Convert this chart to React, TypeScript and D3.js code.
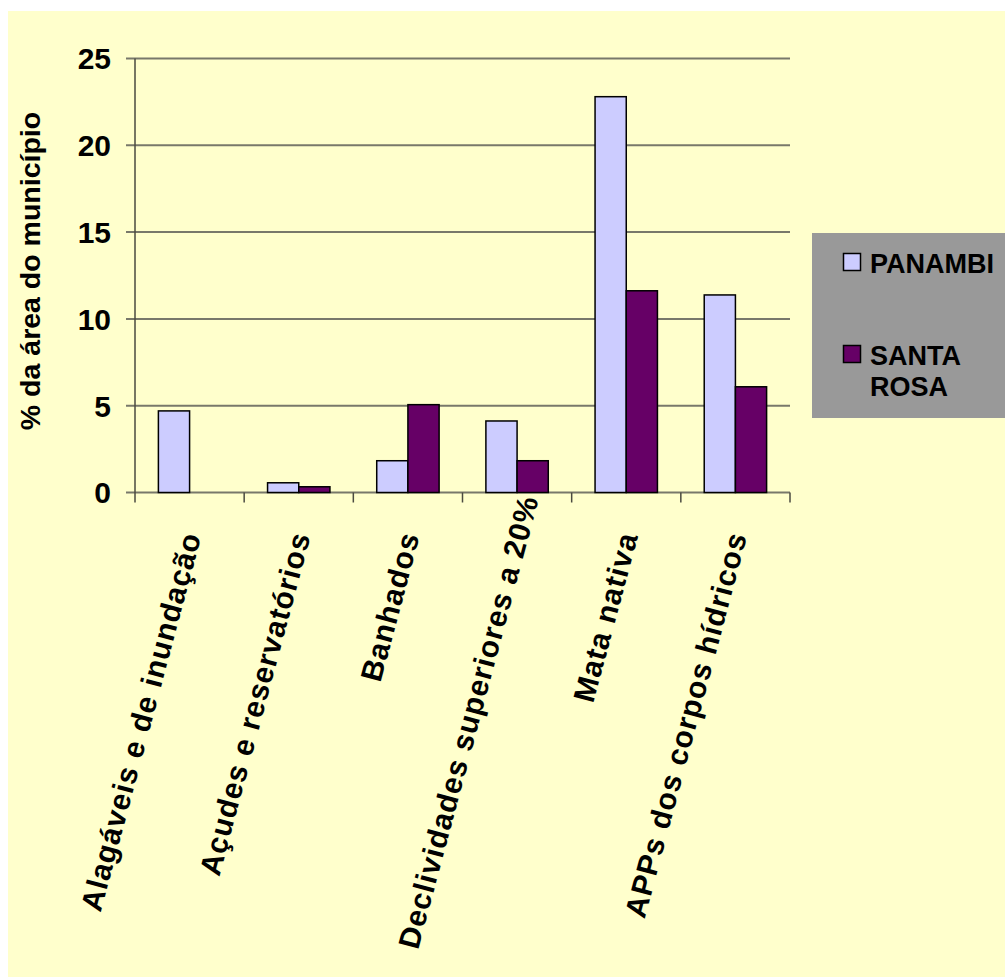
import React, { useEffect, useRef } from 'react';
import * as d3 from 'd3';

const categories = [
  'Alagáveis e de inundação',
  'Açudes e reservatórios',
  'Banhados',
  'Declividades superiores a 20%',
  'Mata nativa',
  'APPs dos corpos hídricos',
];
const seriesNames = ['PANAMBI', 'SANTA ROSA'];
const panambi = [4.7, 0.56, 1.83, 4.12, 22.8, 11.38];
const santaRosa = [0, 0.33, 5.06, 1.83, 11.62, 6.09];
const yTicks = [0, 5, 10, 15, 20, 25];
const colors = ['#CCCCFF', '#660066'];

const App = () => {
  const ref = useRef<SVGSVGElement | null>(null);

  useEffect(() => {
    drawChart();
  }, []);

  const drawChart = () => {
    const svg = d3.select(ref.current);
    svg.selectAll('*').remove();
    const font = 'Arial, "Liberation Sans", Helvetica, sans-serif';
    const gridColor = '#78786a';

    const left = 135,
      right = 790,
      top = 58.5,
      bottom = 492.5,
      labelLimit = 952,
      angle = 75;

    // background
    svg.append('rect')
      .attr('x', 8).attr('y', 11)
      .attr('width', 997).attr('height', 966)
      .attr('fill', '#FFFFCC');

    const x0 = d3.scaleBand().domain(categories).range([left, right]).padding(0);
    const x1 = d3.scaleBand()
      .domain(seriesNames)
      .range([0, x0.bandwidth()])
      .paddingInner(0)
      .paddingOuter(0.75);
    const y = d3.scaleLinear().domain([0, 25]).range([bottom, top]);

    // gridlines + y ticks
    svg.append('g').selectAll('line')
      .data(yTicks)
      .enter().append('line')
      .attr('x1', left - 9).attr('x2', right)
      .attr('y1', d => y(d)).attr('y2', d => y(d))
      .attr('stroke', gridColor).attr('stroke-width', 2);

    svg.append('g').selectAll('text')
      .data(yTicks)
      .enter().append('text')
      .attr('x', 111)
      .attr('y', d => y(d))
      .attr('dy', '0.36em')
      .attr('text-anchor', 'end')
      .style('font-family', font)
      .style('font-weight', 'bold')
      .style('font-size', '30px')
      .text(d => d);

    // y axis line
    svg.append('line')
      .attr('x1', left).attr('x2', left)
      .attr('y1', y(25)).attr('y2', bottom + 10)
      .attr('stroke', '#4a4a40').attr('stroke-width', 1.5);

    // x ticks
    const tickPos = categories.map(c => (x0(c) as number) + x0.bandwidth());
    svg.append('g').selectAll('line')
      .data(tickPos)
      .enter().append('line')
      .attr('x1', d => d).attr('x2', d => d)
      .attr('y1', bottom).attr('y2', bottom + 10)
      .attr('stroke', '#4a4a40').attr('stroke-width', 1.5);

    // bars
    const series = [panambi, santaRosa];
    const groups = svg.append('g').selectAll('g')
      .data(categories)
      .enter().append('g')
      .attr('transform', d => `translate(${x0(d)},0)`);

    groups.selectAll('rect')
      .data((d, i) => seriesNames.map((s, j) => ({ s, v: series[j][i], j })))
      .enter().append('rect')
      .filter(d => d.v > 0)
      .attr('x', d => x1(d.s) as number)
      .attr('y', d => y(d.v))
      .attr('width', x1.bandwidth())
      .attr('height', d => bottom - y(d.v))
      .attr('fill', d => colors[d.j])
      .attr('stroke', '#000')
      .attr('stroke-width', 1.5);

    // category labels (pushed up along their direction when they run past the bottom)
    const rad = (angle * Math.PI) / 180;
    svg.append('g').selectAll('text')
      .data(categories)
      .enter().append('text')
      .attr('text-anchor', 'end')
      .attr('transform', d => `translate(${(x0(d) as number) + x0.bandwidth() / 2 + 12},${bottom + 43}) rotate(-${angle})`)
      .style('font-family', font)
      .style('font-weight', 'bold')
      .style('font-size', '30px')
      .style('letter-spacing', '1px')
      .text(d => d)
      .each(function (d) {
        const el = this as SVGTextElement;
        const r = el.getBoundingClientRect();
        const over = r.bottom - labelLimit;
        if (over > 0) {
          const t = over / Math.sin(rad);
          const cx = (x0(d) as number) + x0.bandwidth() / 2 + 12 + t * Math.cos(rad);
          const cy = bottom + 43 - over;
          d3.select(el).attr('transform', `translate(${cx},${cy}) rotate(-${angle})`);
        }
      });

    // y axis title
    svg.append('text')
      .attr('transform', `translate(40,271) rotate(-90)`)
      .attr('text-anchor', 'middle')
      .style('font-family', font)
      .style('font-weight', 'bold')
      .style('font-size', '28.5px')
      .text('% da área do município');

    // legend
    const legend = svg.append('g');
    legend.append('rect')
      .attr('x', 812).attr('y', 233)
      .attr('width', 193).attr('height', 185)
      .attr('fill', '#999999');

    const legendRows = [
      { lines: ['PANAMBI'], y: 253.5 },
      { lines: ['SANTA', 'ROSA'], y: 345.5 },
    ];
    legendRows.forEach((row, i) => {
      legend.append('rect')
        .attr('x', 843.5).attr('y', row.y)
        .attr('width', 17).attr('height', 17)
        .attr('fill', colors[i])
        .attr('stroke', '#000')
        .attr('stroke-width', 1.5);
      const t = legend.append('text')
        .attr('x', 870)
        .attr('y', row.y + 19.5)
        .style('font-family', font)
        .style('font-weight', 'bold')
        .style('font-size', '27px');
      row.lines.forEach((ln, k) => {
        t.append('tspan')
          .attr('x', 870)
          .attr('dy', k === 0 ? 0 : 30.5)
          .text(ln);
      });
    });
  };

  return (
    <svg
      ref={ref}
      width={1005}
      height={978}
      style={{ position: 'absolute', left: 0, top: 0, display: 'block' }}
    />
  );
};

export default App;
